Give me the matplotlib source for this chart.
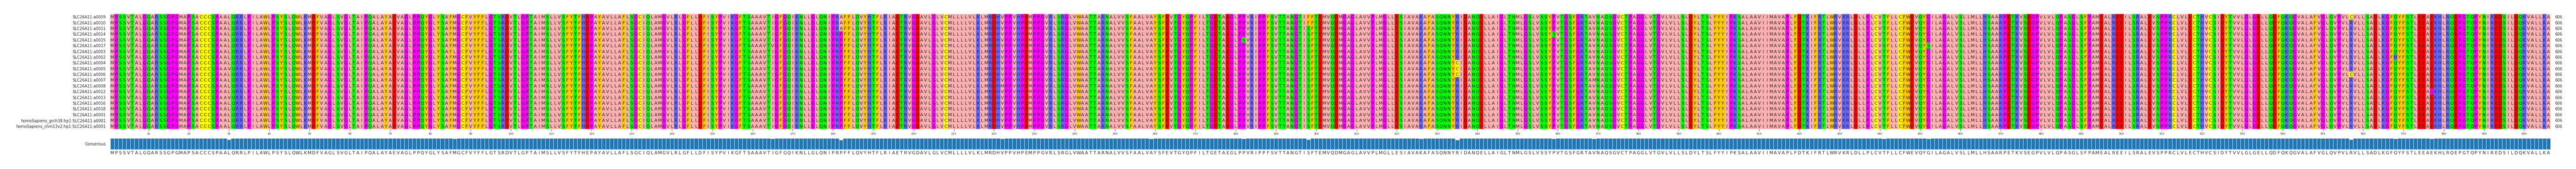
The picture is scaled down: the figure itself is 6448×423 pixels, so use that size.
#!/usr/bin/env python
"""Protein alignment of SLC26A11 isoforms with a conservation bar track."""

import matplotlib
matplotlib.use("Agg")
import matplotlib.pyplot as plt
import numpy as np
from matplotlib.colors import ListedColormap

ROW_LABELS = [
    "SLC26A11:a0009", "SLC26A11:a0010", "SLC26A11:a0011", "SLC26A11:a0014",
    "SLC26A11:a0015", "SLC26A11:a0017", "SLC26A11:a0003", "SLC26A11:a0002",
    "SLC26A11:a0004", "SLC26A11:a0005", "SLC26A11:a0006", "SLC26A11:a0007",
    "SLC26A11:a0008", "SLC26A11:a0012", "SLC26A11:a0013", "SLC26A11:a0016",
    "SLC26A11:a0018", "SLC26A11:a0001",
    "homoSapiens_grch38.hp1:SLC26A11:a0001",
    "homoSapiens_chm13v2.hp1:SLC26A11:a0001",
]

CONSENSUS = (
    "MPSSVTALGQARSSGPGMAPSACCCSPAALQRRLPILAWLPSYSLQWLKM"
    "DFVAGLSVGLTAIPQALAYAEVAGLPPQYGLYSAFMGCFVYFFLGTSRDV"
    "TLGPTAIMSLLVSFYTFHEPAYAVLLAFLSGCIQLAMGVLRLGFLLDFIS"
    "YPVIKGFTSAAAVTIGFGQIKNLLGLQNIPRPFFLQVYHTFLRIAETRVG"
    "DAVLGLVCMLLLLVLKLMRDHVPPVHPEMPPGVRLSRGLVWAATTARNAL"
    "VVSFAALVAYSFEVTGYQPFILTGETAEGLPPVRIPPFSVTTANGTISFT"
    "EMVQDMGAGLAVVPLMGLLESIAVAKAFASQNNYRIDANQELLAIGLTNM"
    "LGSLVSSYPVTGSFGRTAVNAQSGVCTPAGGLVTGVLVLLSLDYLTSLFY"
    "YIPKSALAAVIIMAVAPLFDTKIFRTLWRVKRLDLLPLCVTFLLCFWEVQ"
    "YGILAGALVSLLMLLHSAARPETKVSEGPVLVLQPASGLSFPAMEALREE"
    "ILSRALEVSPPRCLVLECTHVCSIDYTVVLGLGELLQDFQKQGVALAFVG"
    "LQVPVLRVLLSADLKGFQYFSTLEEAEKHLRQEPGTQPYNIREDSILDQK"
    "VALLKA"
)

# (row, column, residue), both counted from 1
VARIANTS = [
    (10, 30, "V"), (15, 30, "V"), (7, 86, "L"), (6, 165, "V"),
    (1, 182, "A"), (2, 182, "A"), (3, 182, "A"), (13, 222, "M"),
    (16, 259, "V"), (5, 282, "S"), (1, 298, "F"), (2, 298, "F"),
    (17, 326, "R"), (9, 335, "C"), (10, 335, "C"), (11, 335, "C"),
    (4, 359, "S"), (12, 369, "M"), (6, 441, "S"), (6, 452, "S"),
    (1, 557, "C"), (11, 557, "C"), (8, 568, "H"), (14, 577, "G"),
]

RESIDUE_GROUPS = ["AILMV", "FWY", "KRH", "DE", "STNQ", "PG", "C"]
GROUP_COLORS = ["#ffafaf", "#ffc800", "#6464ff", "#ff0000", "#00ff00", "#ff00ff", "#ffff00"]

TEXT_COLOR = "#262626"
W, H = 6449, 423
LEFT, RIGHT = 276, 6384
TOP, BOTTOM = 35, 322.7
BAR_TOP, BAR_BOTTOM = 345.7, 374.3

rows = [list(CONSENSUS) for _ in ROW_LABELS]
for row, col, residue in VARIANTS:
    rows[row - 1][col - 1] = residue
n_rows, n_cols = len(rows), len(CONSENSUS)

group_of = {aa: i for i, group in enumerate(RESIDUE_GROUPS) for aa in group}
cells = np.array([[group_of[aa] for aa in row] for row in rows])
conservation = [
    sum(row[c] == CONSENSUS[c] for row in rows) / n_rows for c in range(n_cols)
]

fig = plt.figure(figsize=(W / 100, H / 100), dpi=100)


def axes_px(left, top, right, bottom):
    return fig.add_axes([left / W, 1 - bottom / H, (right - left) / W, (bottom - top) / H])


# ── Alignment ────────────────────────────────────────────────────
ax = axes_px(LEFT, TOP, RIGHT, BOTTOM)
ax.pcolormesh(cells, cmap=ListedColormap(GROUP_COLORS), vmin=-0.5, vmax=6.5)
ax.set_xlim(0, n_cols)
ax.set_ylim(n_rows, 0)
for i, row in enumerate(rows):
    for j, aa in enumerate(row):
        ax.text(j + 0.5, i + 0.5, aa, ha="center", va="center_baseline",
                fontsize=8, color=TEXT_COLOR)
    ax.text(n_cols + 1.1, i + 0.5, str(n_cols), ha="left", va="center_baseline",
            fontsize=7, color=TEXT_COLOR)
for side in ax.spines:
    ax.spines[side].set_visible(False)
ax.set_yticks(np.arange(n_rows) + 0.5)
ax.set_yticklabels(ROW_LABELS, fontsize=7, color=TEXT_COLOR)
ax.tick_params(axis="y", length=0, pad=8)
tick_cols = np.arange(10, n_cols + 1, 10)
ax.set_xticks(tick_cols - 0.5)
ax.set_xticklabels([str(c) for c in tick_cols], fontsize=5, color=TEXT_COLOR)
ax.tick_params(axis="x", length=3.6, width=0.6, pad=3, color=TEXT_COLOR)

# ── Conservation bars and consensus letters ──────────────────────
bx = axes_px(LEFT, BAR_TOP, RIGHT, BAR_BOTTOM)
bx.bar(np.arange(n_cols) + 0.5, conservation, width=1.0, color="#1f77b4",
       edgecolor="#d0dde8", linewidth=0.8)
bx.set_xlim(0, n_cols)
bx.set_ylim(0, 1)
for side in bx.spines:
    bx.spines[side].set_visible(False)
bx.set_yticks([0.5])
bx.set_yticklabels(["Consensus"], fontsize=7, color=TEXT_COLOR)
bx.tick_params(axis="y", length=0, pad=8)
bx.set_xticks(np.arange(n_cols) + 0.5)
bx.set_xticklabels(list(CONSENSUS), fontsize=8, color=TEXT_COLOR)
bx.tick_params(axis="x", length=0, pad=2.5)

fig.savefig("out.png", dpi=100)
